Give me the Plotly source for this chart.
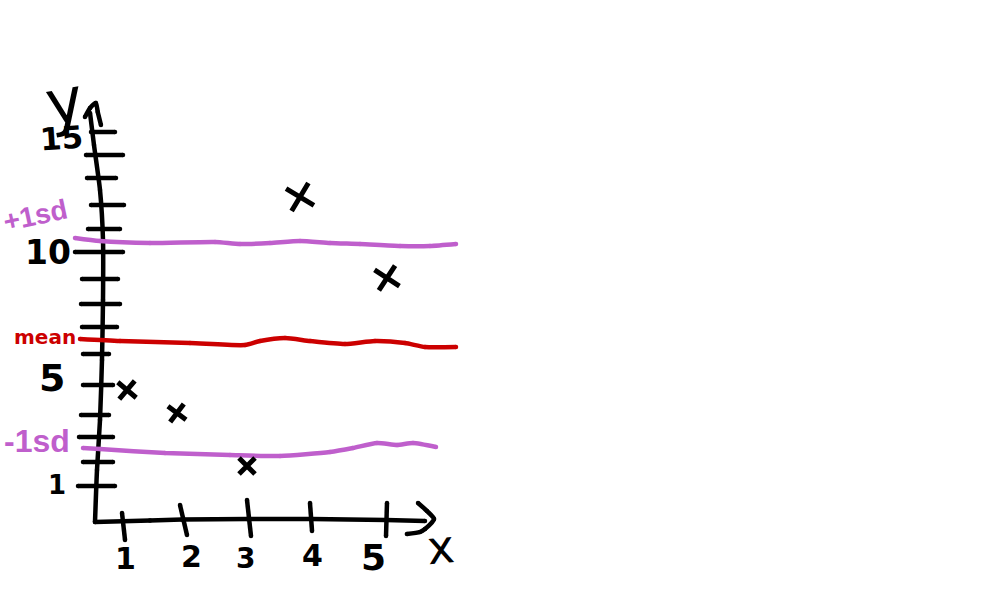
import plotly.graph_objects as go

BLACK = "#000000"
PURPLE = "#BF5FCC"
RED = "#CC0000"
DIGITS = "DejaVu Sans"
SLIM = "Liberation Sans"

# Hand-drawn data, in chart units
point_x = [1.047, 1.828, 2.922, 3.75, 5.109]
point_y = [4.84, 3.92, 1.8, 12.56, 9.32]
point_size = [17, 16, 16, 23, 21]
point_angle = [-5, -8, 0, -14, -12]

upper_x = [0.234, 0.625, 1.406, 2.422, 2.813, 3.281, 3.75, 4.219, 4.688, 5.313, 5.781, 6.188]
upper_y = [10.92, 10.8, 10.72, 10.76, 10.68, 10.72, 10.8, 10.72, 10.68, 10.6, 10.6, 10.68]
mean_x = [0.3125, 0.938, 2.031, 2.891, 3.125, 3.516, 3.906, 4.453, 4.922, 5.391, 5.703, 6.188]
mean_y = [6.88, 6.8, 6.72, 6.64, 6.8, 6.92, 6.8, 6.68, 6.8, 6.72, 6.56, 6.56]
lower_x = [0.359, 0.625, 1.641, 2.656, 3.438, 4.219, 4.578, 4.953, 5.266, 5.516, 5.875]
lower_y = [2.52, 2.48, 2.32, 2.24, 2.2, 2.36, 2.52, 2.72, 2.64, 2.72, 2.56]

yaxis_x = [0.469, 0.531, 0.625, 0.672, 0.672, 0.656, 0.625, 0.578, 0.547]
yaxis_y = [15.92, 14.64, 12.84, 10.84, 8.44, 6.04, 3.64, 1.64, -0.44]
yarrow_x = [0.39, 0.47, 0.56, 0.59, 0.64]
yarrow_y = [15.76, 16.12, 16.32, 15.96, 15.44]
xaxis_x = [0.547, 1.406, 1.906, 2.922, 3.938, 5.094, 5.703]
xaxis_y = [-0.44, -0.38, -0.34, -0.32, -0.32, -0.36, -0.40]
xarrow_x = [5.594, 5.734, 5.844, 5.703, 5.625, 5.42]
xarrow_y = [0.32, 0.0, -0.32, -0.72, -0.84, -0.92]

ytick_y = [15.16, 14.24, 13.32, 12.24, 11.28, 10.36, 9.28, 8.28, 7.36, 6.28, 5.04, 3.84, 2.96, 1.96, 1.0]
ytick_left = [0.484, 0.406, 0.422, 0.484, 0.4375, 0.234, 0.344, 0.328, 0.344, 0.359, 0.359, 0.328, 0.297, 0.359, 0.281]
ytick_right = [0.859, 0.984, 0.875, 1.0, 0.9375, 0.984, 0.906, 0.9375, 0.891, 0.766, 0.828, 0.766, 0.828, 0.828, 0.859]
xtick_top_x = [0.969, 1.875, 2.922, 3.906, 5.109]
xtick_top_y = [-0.08, 0.24, 0.44, 0.32, 0.32]
xtick_bot_x = [1.016, 1.984, 2.984, 3.938, 5.094]
xtick_bot_y = [-1.16, -0.96, -1.0, -0.8, -1.0]

# text, x, y, size, colour, rotation, font, weight
labels = [
    ("15", 0.031, 14.92, 31, BLACK, -4, DIGITS, 700),
    ("10", -0.188, 10.36, 33, BLACK, 0, DIGITS, 700),
    ("5", -0.125, 5.32, 38, BLACK, 0, DIGITS, 700),
    ("1", -0.047, 1.04, 26, BLACK, 0, DIGITS, 700),
    ("1", 1.016, -1.88, 30, BLACK, 0, DIGITS, 700),
    ("2", 2.047, -1.8, 30, BLACK, 0, DIGITS, 700),
    ("3", 2.906, -1.88, 28, BLACK, 0, DIGITS, 700),
    ("4", 3.953, -1.76, 30, BLACK, 0, DIGITS, 700),
    ("5", 4.891, -1.84, 36, BLACK, 0, DIGITS, 700),
    ("x", 5.953, -1.44, 46, BLACK, -5, DIGITS, 400),
    ("y", 0.063, 16.4, 62, BLACK, -10, DIGITS, 400),
    ("+1sd", -0.39, 11.84, 28, PURPLE, -12, SLIM, 700),
    ("mean", -0.234, 6.96, 20, RED, 0, DIGITS, 700),
    ("-1sd", -0.36, 2.8, 32, PURPLE, 0, SLIM, 700),
]

fig = go.Figure()


def stroke(x, y, color, width=4.5):
    fig.add_trace(go.Scatter(
        x=x, y=y, mode="lines+markers", hoverinfo="skip", showlegend=False,
        line=dict(color=color, width=width, shape="spline", smoothing=0.6),
        marker=dict(color=color, size=width),
    ))


stroke(yaxis_x, yaxis_y, BLACK)
stroke(yarrow_x, yarrow_y, BLACK)
stroke(xaxis_x, xaxis_y, BLACK)
stroke(xarrow_x, xarrow_y, BLACK)
for yv, left, right in zip(ytick_y, ytick_left, ytick_right):
    stroke([left, right], [yv, yv], BLACK)
for x0, y0, x1, y1 in zip(xtick_top_x, xtick_top_y, xtick_bot_x, xtick_bot_y):
    stroke([x0, x1], [y0, y1], BLACK)

stroke(upper_x, upper_y, PURPLE)
stroke(mean_x, mean_y, RED)
stroke(lower_x, lower_y, PURPLE)

fig.add_trace(go.Scatter(
    x=point_x, y=point_y, mode="markers", hoverinfo="skip", showlegend=False,
    marker=dict(symbol="x-thin-open", size=point_size, angle=point_angle,
                color=BLACK, opacity=1, line=dict(color=BLACK, width=5)),
))

for text, x, y, size, color, rot, family, weight in labels:
    fig.add_annotation(
        x=x, y=y, text=text, showarrow=False, xanchor="center", yanchor="middle",
        textangle=rot, font=dict(family=family, size=size, color=color, weight=weight),
    )

fig.update_layout(
    width=1000, height=600, margin=dict(l=0, r=0, t=0, b=0),
    paper_bgcolor="white", plot_bgcolor="white", showlegend=False,
    xaxis=dict(range=[-0.9375, 14.6875], visible=False),
    yaxis=dict(range=[-3.56, 20.44], visible=False),
)
fig.write_html("out.html", config={"displayModeBar": False},
               post_script="document.body.style.margin='0';")
